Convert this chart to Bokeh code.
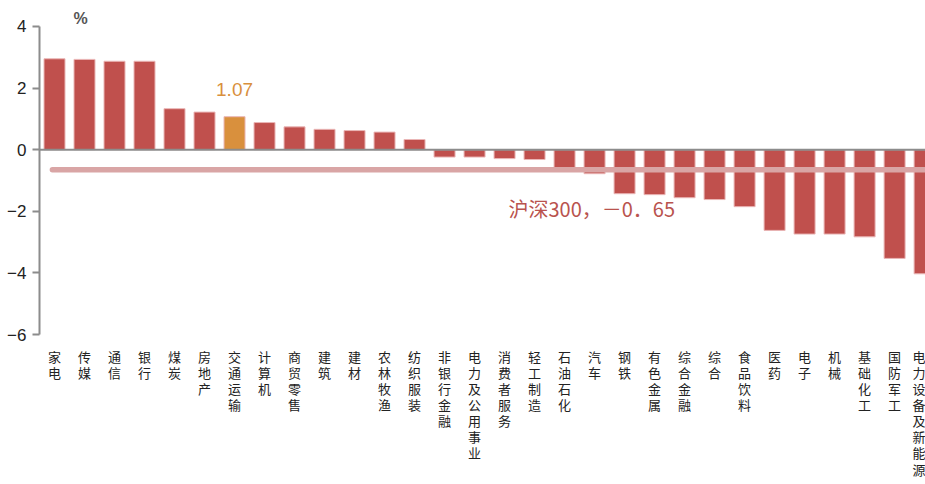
from bokeh.plotting import figure
from bokeh.models import Range1d, FixedTicker, Span, Label, ColumnDataSource
from bokeh.embed import file_html
from bokeh.resources import INLINE

categories = ["家电", "传媒", "通信", "银行", "煤炭", "房地产", "交通运输", "计算机", "商贸零售",
              "建筑", "建材", "农林牧渔", "纺织服装", "非银行金融", "电力及公用事业", "消费者服务",
              "轻工制造", "石油石化", "汽车", "钢铁", "有色金属", "综合金融", "综合", "食品饮料",
              "医药", "电子", "机械", "基础化工", "国防军工", "电力设备及新能源"]
values = [2.95, 2.93, 2.87, 2.87, 1.33, 1.22, 1.07, 0.88, 0.74, 0.66, 0.62, 0.57, 0.33,
          -0.24, -0.24, -0.29, -0.32, -0.64, -0.78, -1.43, -1.46, -1.56, -1.62, -1.85,
          -2.62, -2.74, -2.74, -2.83, -3.53, -4.03]
highlight = "交通运输"
hs300 = -0.65
hs300_text = "沪深300，－0．65"
y_ticks = [-6, -4, -2, 0, 2, 4]

RED = "#c0504d"
ORANGE = "#d9903d"

idx = list(range(len(categories)))
colors = [ORANGE if c == highlight else RED for c in categories]
src = ColumnDataSource(dict(x=idx, top=values, color=colors))

p = figure(frame_width=886, frame_height=325, output_backend="svg", toolbar_location=None,
           x_range=Range1d(-0.5, 29.03), y_range=Range1d(-6, 4.55),
           min_border_left=39, min_border_right=0, min_border_top=9, min_border_bottom=0)
p.outline_line_color = None
p.grid.visible = False
p.background_fill_color = "white"

p.vbar(x="x", top="top", bottom=0, width=0.7, fill_color="color",
       line_color="#eab6b6", line_width=1, source=src)

p.add_layout(Span(location=0, dimension="width", line_color="#8c8c8c", line_width=2))

p.line(x=[-0.07, len(categories)], y=[hs300, hs300], line_color="#d9a5a5",
       line_width=5.5, line_cap="round")

hi = categories.index(highlight)
p.add_layout(Label(x=hi, y=values[hi], y_offset=21, text=f"{values[hi]:.2f}",
                   text_color=ORANGE, text_font_size="19px", text_align="center",
                   text_baseline="bottom", text_font="Liberation Sans"))

p.add_layout(Label(x=15.13, y=-1.91, text=hs300_text,
                   text_color="#b9534e", text_font_size="20px", text_align="left",
                   text_baseline="middle", text_font="Noto Sans CJK SC"))

p.add_layout(Label(x=0.87, y=4.26, text="%", text_color="#555555",
                   text_font_size="16px", text_font_style="bold", text_align="center",
                   text_baseline="middle", text_font="Liberation Sans"))

# y axis
yax = p.yaxis[0]
yax.ticker = FixedTicker(ticks=y_ticks)
yax.bounds = (-6, 4)
yax.axis_line_color = "#8c8c8c"
yax.axis_line_width = 2
yax.major_tick_line_color = "#8c8c8c"
yax.major_tick_line_width = 2
yax.major_tick_out = 7
yax.major_tick_in = 0
yax.minor_tick_line_color = None
yax.major_label_text_font = "Liberation Sans"
yax.major_label_text_font_size = "17px"
yax.major_label_text_color = "#222222"
yax.major_label_standoff = 6

# x axis
xax = p.xaxis[0]
xax.ticker = FixedTicker(ticks=idx)
xax.major_label_overrides = {i: "\n".join(c) for i, c in enumerate(categories)}
xax.axis_line_color = None
xax.major_tick_line_color = None
xax.minor_tick_line_color = None
xax.major_label_text_font = "Noto Sans CJK SC"
xax.major_label_text_font_size = "13px"
xax.major_label_text_color = "#222222"
xax.major_label_text_line_height = 0.85
xax.major_label_standoff = 6

open("out.html", "w").write(file_html(p, INLINE))
